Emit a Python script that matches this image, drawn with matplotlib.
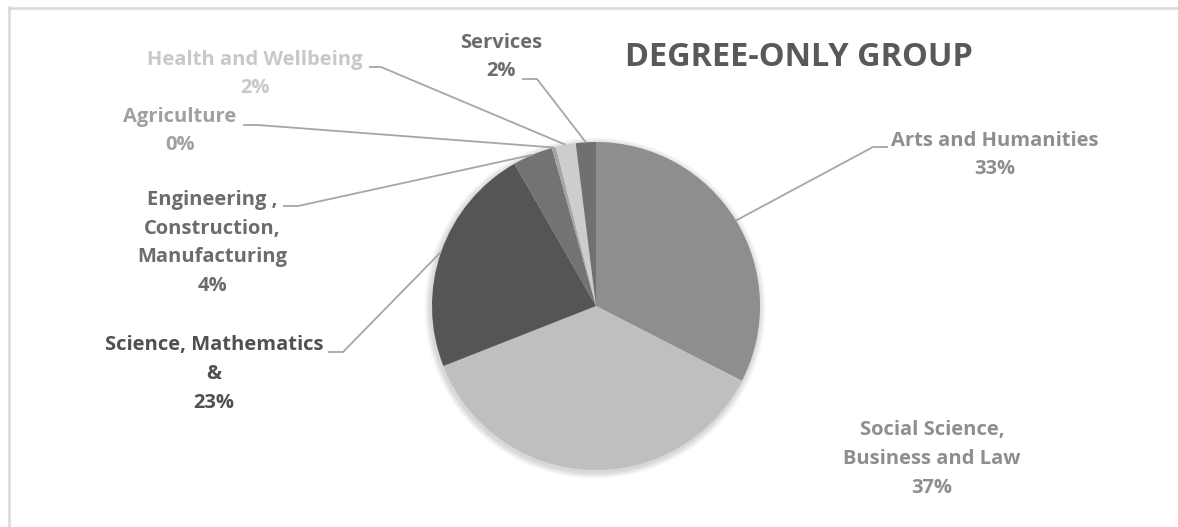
import numpy as np
import matplotlib
matplotlib.use('Agg')
import matplotlib.pyplot as plt
from matplotlib.lines import Line2D

# Share of degree-only group by field of study (%), clockwise from 12 o'clock
fields = ['Arts and Humanities', 'Social Science,\nBusiness and Law',
          'Science, Mathematics\n&', 'Engineering ,\nConstruction,\nManufacturing',
          'Agriculture', 'Health and Wellbeing', 'Services']
shares = [33, 37, 23, 4, 0.4, 2, 2]

slice_colours = ['#8e8e8e', '#bfbfbf', '#555555', '#737373', '#a5a5a5', '#cdcdcd', '#707070']
text_colours = ['#8e8e8e', '#8e8e8e', '#505050', '#6c6c6c', '#a0a0a0', '#c8c8c8', '#6c6c6c']

# label centre (px), leader start (px), leader elbow (px); None = no leader
label_pos = [(995, 155), (932, 459), (214, 374), (212, 243), (180, 131), (255, 74), (501, 57)]
leader_start = [(888, 147), None, (328, 352), (283, 206), (243, 125), (369, 67), (522, 79)]
leader_elbow = [(873, 147), None, (343, 352), (298, 206), (258, 125), (381, 67), (537, 79)]

W, H = 1178, 527
cx, cy, r = 596, 306, 164

plt.rcParams['font.family'] = ['Open Sans', 'DejaVu Sans']

fig = plt.figure(figsize=(W / 100, H / 100), dpi=100)
ax = fig.add_axes([0, 0, 1, 1])

def py(y):
    # flip pixel row to data y
    return H - y

# soft drop shadow behind the pie
for k in range(8):
    ax.add_patch(plt.Circle((cx - 1, py(cy) - 2), r + 1 + k * 0.8,
                            color='black', alpha=0.018, lw=0, zorder=0))

wedges, _ = ax.pie(shares, colors=slice_colours, startangle=90, counterclock=False,
                   center=(cx, py(cy)), radius=r, frame=True,
                   wedgeprops=dict(linewidth=0))
ax.set_xlim(0, W)
ax.set_ylim(0, H)
ax.set_aspect('equal')
ax.axis('off')

for i, (name, val) in enumerate(zip(fields, shares)):
    lx, ly = label_pos[i]
    ax.text(lx, py(ly), f'{name}\n{round(val)}%', ha='center', va='center',
            multialignment='center', fontsize=14.5, fontweight='bold',
            color=text_colours[i], linespacing=1.58, zorder=5)
    if leader_start[i] is None:
        continue
    w = wedges[i]
    mid = np.deg2rad((w.theta1 + w.theta2) / 2)
    ex, ey = cx + r * np.cos(mid), py(cy) + r * np.sin(mid)
    (sx, sy), (bx, by) = leader_start[i], leader_elbow[i]
    ax.plot([sx, bx, ex], [py(sy), py(by), ey], color='#a6a6a6', lw=1.3,
            solid_capstyle='butt', zorder=4)

ax.text(799, py(57), 'DEGREE-ONLY GROUP', ha='center', va='center',
        fontsize=23.4, fontweight='bold', color='#595959')

# chart frame (left and top edges)
fig.add_artist(Line2D([8.5 / W, 8.5 / W], [0, 1 - 7 / H], transform=fig.transFigure,
                      color='#d9d9d9', lw=1.8))
fig.add_artist(Line2D([8.5 / W, 1], [1 - 7.5 / H, 1 - 7.5 / H], transform=fig.transFigure,
                      color='#d9d9d9', lw=1.8))

fig.savefig('out.png', dpi=100, facecolor='white')
